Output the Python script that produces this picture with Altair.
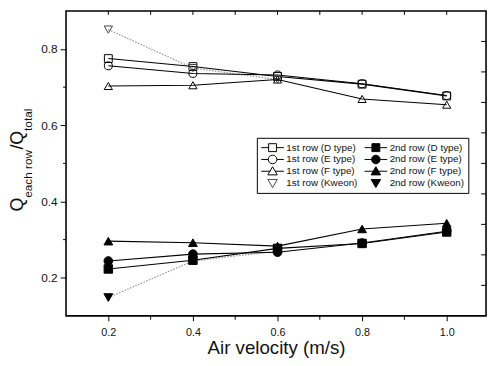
import altair as alt
import pandas as pd

# ---------------- data ----------------
velocity = [0.2, 0.4, 0.6, 0.8, 1.0]
velocity_kweon = [0.2, 0.4, 0.6]

first_d = [0.775, 0.754, 0.728, 0.708, 0.677]
first_e = [0.756, 0.736, 0.732, 0.709, 0.678]
first_f = [0.703, 0.705, 0.720, 0.669, 0.654]
first_k = [0.851, 0.750, 0.720]
second_d = [0.223, 0.246, 0.277, 0.290, 0.320]
second_e = [0.244, 0.262, 0.267, 0.291, 0.322]
second_f = [0.296, 0.292, 0.283, 0.328, 0.343]
second_k = [0.148, 0.244, 0.270]

# legend fills column by column: first column = 1st row, second column = 2nd row
series_names = [
    "1st row (D type)", "1st row (E type)", "1st row (F type)", "1st row (Kweon)",
    "2nd row (D type)", "2nd row (E type)", "2nd row (F type)", "2nd row (Kweon)",
]
x_ticks = [0.2, 0.4, 0.6, 0.8, 1.0]
x_minor = [0.3, 0.5, 0.7, 0.9]
y_ticks = [0.2, 0.4, 0.6, 0.8]
y_minor = [0.3, 0.5, 0.7]
top_ticks = [0.2, 0.3, 0.4, 0.5, 0.6, 0.7, 0.8, 0.9, 1.0]
right_ticks = [0.18, 0.26, 0.34, 0.42, 0.50, 0.58, 0.66, 0.74, 0.82]

series_values = {
    "1st row (D type)": (velocity, first_d, "solid"),
    "1st row (E type)": (velocity, first_e, "solid"),
    "1st row (F type)": (velocity, first_f, "solid"),
    "1st row (Kweon)": (velocity_kweon, first_k, "dotted"),
    "2nd row (D type)": (velocity, second_d, "solid"),
    "2nd row (E type)": (velocity, second_e, "solid"),
    "2nd row (F type)": (velocity, second_f, "solid"),
    "2nd row (Kweon)": (velocity_kweon, second_k, "dotted"),
}
rows = []
for name in series_names:
    xs, ys, style = series_values[name]
    for xv, yv in zip(xs, ys):
        rows.append({"series": name, "v": xv, "q": yv, "style": style})
df = pd.DataFrame(rows)

FONT = "Liberation Sans"
W, H = 427, 310
xscale = alt.Scale(domain=[0.1, 1.093], nice=False, zero=False)
yscale = alt.Scale(domain=[0.1, 0.9], nice=False, zero=False)

x_axis = alt.Axis(values=x_ticks, format=".1f", tickSize=5, tickColor="black",
                  labelFontSize=11, labelFont=FONT, labelColor="#111111", labelPadding=6,
                  domain=False, grid=False, title="Air velocity (m/s)",
                  titleFont=FONT, titleFontSize=19, titleFontWeight="normal",
                  titleColor="#111111", titlePadding=1)
y_axis = alt.Axis(values=y_ticks, format=".1f", tickSize=6, tickColor="black",
                  labelFontSize=12, labelFont=FONT, labelColor="#111111", labelPadding=3,
                  domain=False, grid=False, title=None)

X = alt.X("v:Q", scale=xscale, axis=x_axis)
Y = alt.Y("q:Q", scale=yscale, axis=y_axis)

base = alt.Chart(df)

lines_solid = base.transform_filter(alt.datum.style == "solid").mark_line(
    color="black", strokeWidth=1.1).encode(x=X, y=Y, detail="series:N")
lines_dot = base.transform_filter(alt.datum.style == "dotted").mark_line(
    color="#999999", strokeWidth=1.3, strokeDash=[1.5, 1.5]).encode(x=X, y=Y, detail="series:N")

shape_range = ["square", "circle", "triangle-up", "triangle-down",
               "square", "circle", "triangle-up", "triangle-down"]
fill_range = ["transparent", "transparent", "transparent", "transparent",
              "black", "black", "black", "black"]
stroke_range = ["black", "black", "black", "#444444", "black", "black", "black", "black"]
size_range = [64, 81, 100, 100, 64, 81, 100, 100]

points = base.mark_point(strokeWidth=1, opacity=1).encode(
    x=X, y=Y,
    shape=alt.Shape("series:N", scale=alt.Scale(domain=series_names, range=shape_range), legend=None),
    fill=alt.Fill("series:N", scale=alt.Scale(domain=series_names, range=fill_range), legend=None),
    stroke=alt.Stroke("series:N", scale=alt.Scale(domain=series_names, range=stroke_range), legend=None),
    size=alt.Size("series:N", scale=alt.Scale(domain=series_names, range=size_range), legend=None),
)

# legend symbols: short line with the marker in the middle
sq = "M-1,0H-0.35M0.35,0H1M-0.35,-0.35H0.35V0.35H-0.35Z"
ci = "M-1,0H-0.38M0.38,0H1M0.38,0A0.38,0.38 0 1,1 -0.38,0A0.38,0.38 0 1,1 0.38,0Z"
tu = "M-1,0H-0.22M0.22,0H1M0,-0.4L0.42,0.32L-0.42,0.32Z"
td = "M0,0.4L0.42,-0.32L-0.42,-0.32Z"
legend_shapes = [sq, ci, tu, td, sq, ci, tu, td]
legend_fill = ["white", "white", "white", "white", "black", "black", "black", "black"]

legend_layer = base.mark_point(opacity=0, strokeWidth=1).encode(
    x=X, y=Y,
    shape=alt.Shape("series:N", scale=alt.Scale(domain=series_names, range=legend_shapes),
                    legend=alt.Legend(title=None, orient="none", legendX=194, legendY=129,
                                      columns=2, columnPadding=6, rowPadding=0, clipHeight=12,
                                      symbolSize=529, symbolStrokeWidth=1, symbolOpacity=1,
                                      labelFont=FONT, labelFontSize=10, labelColor="#111111",
                                      labelOffset=2, padding=4, strokeColor="black",
                                      fillColor="white", cornerRadius=0)),
    fill=alt.Fill("series:N", scale=alt.Scale(domain=series_names, range=legend_fill)),
    stroke=alt.Stroke("series:N", scale=alt.Scale(domain=series_names, range=stroke_range)),
)

one = alt.InlineData(values=[{"k": 1}])

top_t = alt.Chart(pd.DataFrame({"v": top_ticks})).mark_rule(color="black", strokeWidth=1).encode(
    x=alt.X("v:Q", scale=xscale, axis=x_axis), y=alt.value(0), y2=alt.value(4))
bottom_minor = alt.Chart(pd.DataFrame({"v": x_minor})).mark_rule(color="black", strokeWidth=1).encode(
    x=alt.X("v:Q", scale=xscale, axis=x_axis), y=alt.value(H), y2=alt.value(H + 4))
left_minor = alt.Chart(pd.DataFrame({"q": y_minor})).mark_rule(color="black", strokeWidth=1).encode(
    y=alt.Y("q:Q", scale=yscale, axis=y_axis), x=alt.value(-3), x2=alt.value(0))
right_t = alt.Chart(pd.DataFrame({"q": right_ticks})).mark_rule(color="black", strokeWidth=1).encode(
    y=alt.Y("q:Q", scale=yscale, axis=y_axis), x=alt.value(W - 5), x2=alt.value(W))

# y-axis title with subscripts: Q_each row / Q_total
def piece(txt, size, xpos, ypos):
    return alt.Chart(one).mark_text(text=txt, font=FONT, fontSize=size, angle=270,
                                    align="left", baseline="middle", color="#111111").encode(
        x=alt.value(xpos), y=alt.value(ypos))

title_parts = [
    piece("Q", 18, -49, 204),
    piece("each row", 12, -39, 190),
    piece("/Q", 18, -49, 141),
    piece("total", 12, -39, 122),
]

chart = alt.layer(
    lines_dot, lines_solid, points, legend_layer,
    top_t, bottom_minor, left_minor, right_t, *title_parts
).resolve_scale(
    shape="independent", fill="independent", stroke="independent"
).properties(
    width=W, height=H,
    autosize=alt.AutoSizeParams(type="none"),
    padding={"left": 59, "top": 0, "right": 2, "bottom": 48},
    background="white",
).configure_view(stroke="black", strokeWidth=1.6)

chart.save("out.html", embed_options={"renderer": "svg", "actions": False})
